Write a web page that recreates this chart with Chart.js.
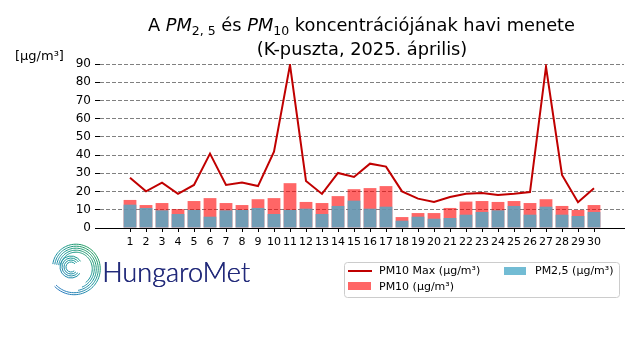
<!DOCTYPE html>
<html>
<head>
<meta charset="utf-8">
<script src="https://cdn.jsdelivr.net/npm/chart.js@4"></script>
<style>
html,body{margin:0;padding:0;background:#fff;}
#wrap{width:640px;height:360px;}
</style>
</head>
<body>
<div id="wrap"><canvas id="c" width="640" height="360"></canvas></div>
<script>
const days = [1,2,3,4,5,6,7,8,9,10,11,12,13,14,15,16,17,18,19,20,21,22,23,24,25,26,27,28,29,30];
const pm10 = [15.4,12.6,13.7,10.4,14.8,16.4,13.7,12.6,15.8,16.4,24.6,14.3,13.7,17.5,21.3,21.9,23.0,6.0,8.2,8.2,11.0,14.5,14.8,14.3,14.8,13.7,15.8,12.1,9.9,12.6];
const pm25 = [12.8,11.0,9.7,7.7,9.9,6.2,9.7,9.9,11.0,7.7,9.9,10.6,7.7,12.1,15.0,10.6,11.7,4.0,6.2,5.1,5.5,7.3,8.8,9.7,12.1,7.3,11.7,7.3,6.6,8.8];
const pm10max = [27.6,20.1,24.9,18.7,23.6,40.8,23.6,24.9,23.0,41.9,89.5,25.8,18.7,30.2,28.0,35.3,33.7,20.1,16.1,14.3,17.0,18.8,19.2,18.1,18.8,19.7,88.5,29.1,14.1,21.8];
const yTicks = [0,10,20,30,40,50,60,70,80,90];

const titleLine2 = '(K-puszta, 2025. április)';
const legendLabels = ['PM10 Max (μg/m³)', 'PM10 (μg/m³)', 'PM2,5 (μg/m³)'];
const yLabel = '[μg/m³]';
const logoText = 'HungaroMet';

const C_LINE = '#c00000';
const C_PM10 = 'rgba(255,0,0,0.6)';
const C_PM25 = 'rgba(79,171,201,0.8)';
const FONT = '"DejaVu Sans", sans-serif';

const pts = arr => days.map((d,i) => ({x:d, y:arr[i]}));

const decor = {
  id:'decor',
  afterDraw(chart){
    const ctx = chart.ctx;
    ctx.save();
    const fs = 17.8, sub = 12.5;
    const parts = [
      {t:'A ', f:`${fs}px ${FONT}`, dy:0},
      {t:'PM', f:`italic ${fs}px ${FONT}`, dy:0},
      {t:'2, 5', f:`${sub}px ${FONT}`, dy:4},
      {t:' és ', f:`${fs}px ${FONT}`, dy:0},
      {t:'PM', f:`italic ${fs}px ${FONT}`, dy:0},
      {t:'10', f:`${sub}px ${FONT}`, dy:4},
      {t:' koncentrációjának havi menete', f:`${fs}px ${FONT}`, dy:0}
    ];
    let w = 0;
    parts.forEach(p => { ctx.font = p.f; p.w = ctx.measureText(p.t).width; w += p.w; });
    let x = 361.5 - w/2;
    ctx.fillStyle = '#000';
    ctx.textBaseline = 'alphabetic';
    ctx.textAlign = 'left';
    parts.forEach(p => { ctx.font = p.f; ctx.fillText(p.t, x, 31 + p.dy); x += p.w; });
    ctx.font = `${fs}px ${FONT}`;
    ctx.textAlign = 'center';
    ctx.fillText(titleLine2, 362, 55);

    ctx.font = `13px ${FONT}`;
    ctx.textAlign = 'left';
    ctx.textBaseline = 'middle';
    ctx.fillText(yLabel, 15, 57);

    const lx = 344.5, ly = 262.5, lw = 275, lh = 35;
    ctx.beginPath();
    ctx.roundRect(lx, ly, lw, lh, 3);
    ctx.fillStyle = 'rgba(255,255,255,0.8)';
    ctx.fill();
    ctx.strokeStyle = '#cccccc';
    ctx.lineWidth = 1;
    ctx.stroke();
    ctx.font = `11px ${FONT}`;
    ctx.textBaseline = 'middle';
    ctx.strokeStyle = C_LINE; ctx.lineWidth = 2;
    ctx.beginPath(); ctx.moveTo(348, 271); ctx.lineTo(372, 271); ctx.stroke();
    ctx.fillStyle = '#000'; ctx.fillText(legendLabels[0], 379, 271);
    ctx.fillStyle = C_PM10; ctx.fillRect(348, 282, 23, 8);
    ctx.fillStyle = '#000'; ctx.fillText(legendLabels[1], 379, 287);
    ctx.fillStyle = C_PM25; ctx.fillRect(504, 267, 22, 8);
    ctx.fillStyle = '#000'; ctx.fillText(legendLabels[2], 535, 271);

    // Logo spiral
    const rad = Math.PI/180;
    const grad = ctx.createLinearGradient(96, 246, 56, 292);
    grad.addColorStop(0, '#1f9a4c');
    grad.addColorStop(0.45, '#17969a');
    grad.addColorStop(1, '#2a78c2');
    ctx.strokeStyle = grad;
    ctx.lineWidth = 1;
    const cx = 75, cy = 268;
    for (let j = 0; j < 5; j++) {
      const r0 = 14.5 + j*2;
      const aEnd = j >= 3 ? 500 : 445 - (2-j)*15;
      ctx.beginPath();
      for (let a = 190; a <= aEnd; a += 4) {
        const r = r0 + (a-190)/310*5;
        const px = cx + r*Math.cos(a*rad), py = cy + r*Math.sin(a*rad);
        if (a === 190) ctx.moveTo(px, py); else ctx.lineTo(px, py);
      }
      ctx.stroke();
    }
    const ix = 71, iy = 267;
    for (let j = 0; j < 4; j++) {
      const r = 5 + j*2;
      ctx.beginPath();
      ctx.arc(ix, iy, r, (50 - j*5)*rad, (320 + j*3)*rad);
      ctx.stroke();
    }
    ctx.fillStyle = '#222a7a';
    ctx.textBaseline = 'alphabetic';
    ctx.textAlign = 'left';
    let lf = 30;
    ctx.font = `300 ${lf}px Lato, "Open Sans", sans-serif`;
    const tw = ctx.measureText(logoText).width;
    lf = lf * 148 / tw;
    ctx.font = `300 ${lf}px Lato, "Open Sans", sans-serif`;
    ctx.fillText(logoText, 102, 282);
    ctx.fillText(logoText, 102.4, 282);
    ctx.restore();
  }
};

new Chart(document.getElementById('c'), {
  data: {
    datasets: [
      {type:'line', label:legendLabels[0], data:pts(pm10max), borderColor:C_LINE, borderWidth:2, pointRadius:0, tension:0, order:0},
      {type:'bar', label:legendLabels[2], data:pts(pm25), backgroundColor:C_PM25, borderWidth:0, grouped:false, barPercentage:0.8, categoryPercentage:1.0, order:1},
      {type:'bar', label:legendLabels[1], data:pts(pm10), backgroundColor:C_PM10, borderWidth:0, grouped:false, barPercentage:0.8, categoryPercentage:1.0, order:2}
    ]
  },
  options: {
    responsive:false,
    animation:false,
    events:[],
    layout:{padding:{top:64, right:16, left:0, bottom:0}},
    plugins:{legend:{display:false}, title:{display:false}, tooltip:{enabled:false}},
    scales:{
      x:{
        type:'linear', min:-0.875, max:31.875, offset:false,
        afterBuildTicks: s => { s.ticks = days.map(v => ({value:v})); },
        afterFit: s => { s.height = 132; },
        grid:{drawOnChartArea:false, drawTicks:true, tickLength:4, tickColor:'#000', tickWidth:1, offset:false},
        border:{display:true, color:'#000', width:1},
        ticks:{color:'#000', font:{family:'DejaVu Sans', size:11}, padding:4, maxRotation:0, autoSkip:false}
      },
      y:{
        min:0, max:90,
        afterBuildTicks: s => { s.ticks = yTicks.map(v => ({value:v})); },
        afterFit: s => { s.width = 100; },
        grid:{color:'#808080', lineWidth:1, drawTicks:true, tickLength:5, tickColor:'#000', tickWidth:1, tickBorderDash:[1,0]},
        border:{display:false, dash:[4,2]},
        ticks:{color:'#000', font:{family:'DejaVu Sans', size:12}, padding:4}
      }
    }
  },
  plugins:[decor]
});
</script>
</body>
</html>
